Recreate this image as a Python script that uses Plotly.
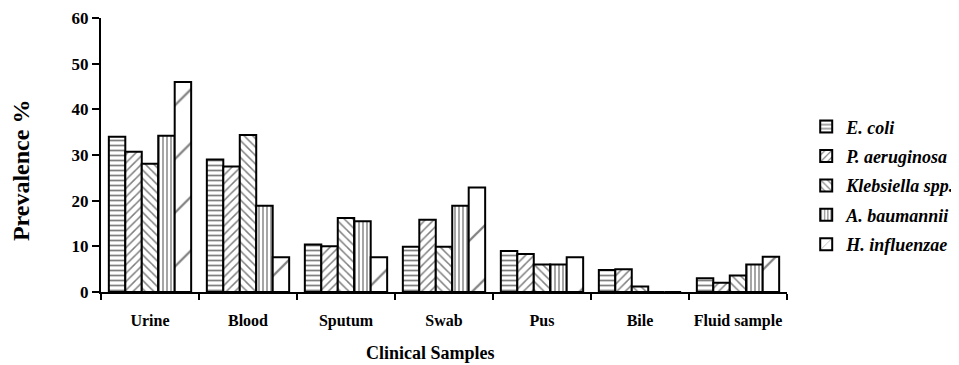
import plotly.graph_objects as go

categories = ["Urine", "Blood", "Sputum", "Swab", "Pus", "Bile", "Fluid sample"]
series_names = ["E. coli", "P. aeruginosa", "Klebsiella spp.", "A. baumannii", "H. influenzae"]
e_coli = [34, 29, 10.4, 9.9, 9, 4.8, 3]
p_aeruginosa = [30.7, 27.5, 10, 15.8, 8.3, 5, 2]
klebsiella = [28.1, 34.4, 16.2, 9.9, 6, 1.2, 3.6]
a_baumannii = [34.2, 18.9, 15.5, 18.9, 6, 0, 6]
h_influenzae = [46, 7.6, 7.6, 22.9, 7.6, 0, 7.7]
y_ticks = [0, 10, 20, 30, 40, 50, 60]

values = [e_coli, p_aeruginosa, klebsiella, a_baumannii, h_influenzae]
patterns = [
    dict(shape="-", size=5, solidity=0.35),
    dict(shape="/", size=6, solidity=0.25),
    dict(shape="\\", size=6, solidity=0.25),
    dict(shape="|", size=4, solidity=0.35),
    dict(shape="/", size=38, solidity=0.06),
]

FONT = "Liberation Serif"
fig = go.Figure()
for i, (name, vals, pat) in enumerate(zip(series_names, values, patterns)):
    fig.add_trace(go.Bar(
        x=categories, y=vals, name=name, legendgroup=f"g{i}",
        marker=dict(color="white", line=dict(color="black", width=2),
                    pattern=dict(fgcolor="black", bgcolor="white", fillmode="overlay", **pat)),
    ))

fig.update_layout(
    width=951, height=357,
    margin=dict(l=93, r=172, t=10, b=73, autoexpand=False),
    paper_bgcolor="white", plot_bgcolor="white",
    barmode="group", bargap=0.16, bargroupgap=0,
    font=dict(family=FONT, color="black"),
    showlegend=True,
    legend=dict(x=1.028, xanchor="left", y=0.389, yanchor="middle",
                font=dict(family=FONT, size=18, color="black", style="italic", weight="bold"),
                traceorder="grouped", tracegroupgap=3, bgcolor="rgba(0,0,0,0)"),
    xaxis=dict(
        range=[-0.5, 6.5], showline=True, linecolor="black", linewidth=2,
        ticks="outside", tickson="boundaries", ticklen=6, tickwidth=2, tickcolor="black",
        ticklabelstandoff=13, tickangle=0, automargin=False, ticklabeloverflow="allow",
        tickfont=dict(family=FONT, size=16, weight="bold", color="black"),
        showgrid=False, zeroline=False,
    ),
    yaxis=dict(
        range=[0, 60], tickvals=y_ticks, showline=True, linecolor="black", linewidth=2,
        ticks="outside", ticklen=7, tickwidth=2, tickcolor="black", automargin=False,
        ticklabeloverflow="allow",
        tickfont=dict(family=FONT, size=17, weight="bold", color="black"),
        showgrid=False, zeroline=False,
    ),
    annotations=[
        dict(text="Clinical Samples", x=0.481, y=0, xref="paper", yref="paper",
             xanchor="center", yanchor="top", yshift=-49, showarrow=False,
             font=dict(family=FONT, size=18, weight="bold", color="black")),
        dict(text="Prevalence %", x=-0.1166, y=0.445, xref="paper", yref="paper",
             xanchor="center", yanchor="middle", textangle=-90, showarrow=False,
             font=dict(family=FONT, size=24, weight="bold", color="black")),
    ],
)

fig.write_html("out.html")
